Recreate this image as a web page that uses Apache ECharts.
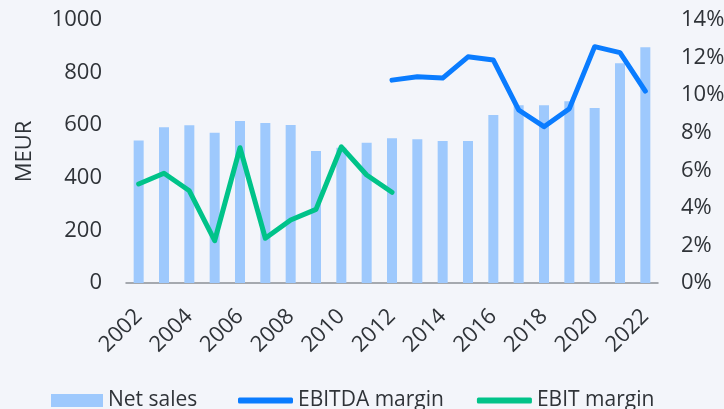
<!DOCTYPE html>
<html>
<head>
<meta charset="utf-8">
<script src="https://cdn.jsdelivr.net/npm/echarts@6/dist/echarts.min.js"></script>
<style>
  html, body { margin: 0; padding: 0; background: #f3f5fa; }
  #chart { width: 724px; height: 409px; }
</style>
</head>
<body>
<div id="chart"></div>
<script>
const years = ['2002', '2003', '2004', '2005', '2006', '2007', '2008', '2009', '2010', '2011', '2012',
  '2013', '2014', '2015', '2016', '2017', '2018', '2019', '2020', '2021', '2022']
const netSales = [542, 592, 600, 571, 616, 608, 601, 502, 514, 533, 550,
  547, 540, 540, 639, 676, 676, 691, 665, 836, 896]
const ebitdaMargin = [null, null, null, null, null, null, null, null, null, null, 10.8,
  10.98, 10.91, 12.04, 11.87, 9.21, 8.32, 9.28, 12.58, 12.26, 10.22]
const ebitMargin = [5.27, 5.84, 4.91, 2.25, 7.2, 2.38, 3.35, 3.92, 7.25, 5.75, 4.83,
  null, null, null, null, null, null, null, null, null, null]

const font = 'Open Sans'
const textColor = '#2f3338'

const myChart = echarts.init(document.getElementById('chart'))
const option = {
  backgroundColor: '#f3f5fa',
  grid: { left: 126, right: 66, top: 20, bottom: 126, containLabel: false, outerBoundsMode: 'none' },
  legend: [
    {
      data: [{ name: 'Net sales', icon: 'rect' }],
      left: 46,
      top: 385,
      itemWidth: 52,
      itemHeight: 13,
      textStyle: { color: textColor, fontFamily: font, fontSize: 21 }
    },
    {
      data: [{ name: 'EBITDA margin', icon: 'roundRect' }, { name: 'EBIT margin', icon: 'roundRect' }],
      left: 233,
      top: 385,
      itemWidth: 55,
      itemHeight: 6,
      itemGap: 33,
      textStyle: { color: textColor, fontFamily: font, fontSize: 21 }
    }
  ],
  xAxis: {
    type: 'category',
    data: years,
    axisLine: { lineStyle: { color: '#8c9096', width: 1.5 } },
    axisTick: { show: false },
    axisLabel: {
      interval: 1,
      rotate: 45,
      color: textColor,
      fontFamily: font,
      fontSize: 22,
      margin: 30
    }
  },
  yAxis: [
    {
      type: 'value',
      min: 0,
      max: 1000,
      interval: 200,
      name: 'MEUR',
      nameLocation: 'middle',
      nameGap: 90,
      nameTextStyle: { color: textColor, fontFamily: font, fontSize: 22 },
      splitLine: { show: false },
      axisLine: { show: false },
      axisTick: { show: false },
      axisLabel: { color: textColor, fontFamily: font, fontSize: 22, margin: 24, formatter: (v) => String(v) }
    },
    {
      type: 'value',
      min: 0,
      max: 14,
      interval: 2,
      splitLine: { show: false },
      axisLine: { show: false },
      axisTick: { show: false },
      axisLabel: { color: textColor, fontFamily: font, fontSize: 22, margin: 23, formatter: '{value}%' }
    }
  ],
  series: [
    {
      name: 'Net sales',
      type: 'bar',
      data: netSales,
      barWidth: 10,
      itemStyle: { color: '#9ec9fd' }
    },
    {
      name: 'EBITDA margin',
      type: 'line',
      yAxisIndex: 1,
      data: ebitdaMargin,
      showSymbol: false,
      symbol: 'none',
      lineStyle: { color: '#0a7cff', width: 5, cap: 'round', join: 'round' },
      itemStyle: { color: '#0a7cff' }
    },
    {
      name: 'EBIT margin',
      type: 'line',
      yAxisIndex: 1,
      data: ebitMargin,
      showSymbol: false,
      symbol: 'none',
      lineStyle: { color: '#00c389', width: 5, cap: 'round', join: 'round' },
      itemStyle: { color: '#00c389' }
    }
  ]
}
myChart.setOption(option)
</script>
</body>
</html>
